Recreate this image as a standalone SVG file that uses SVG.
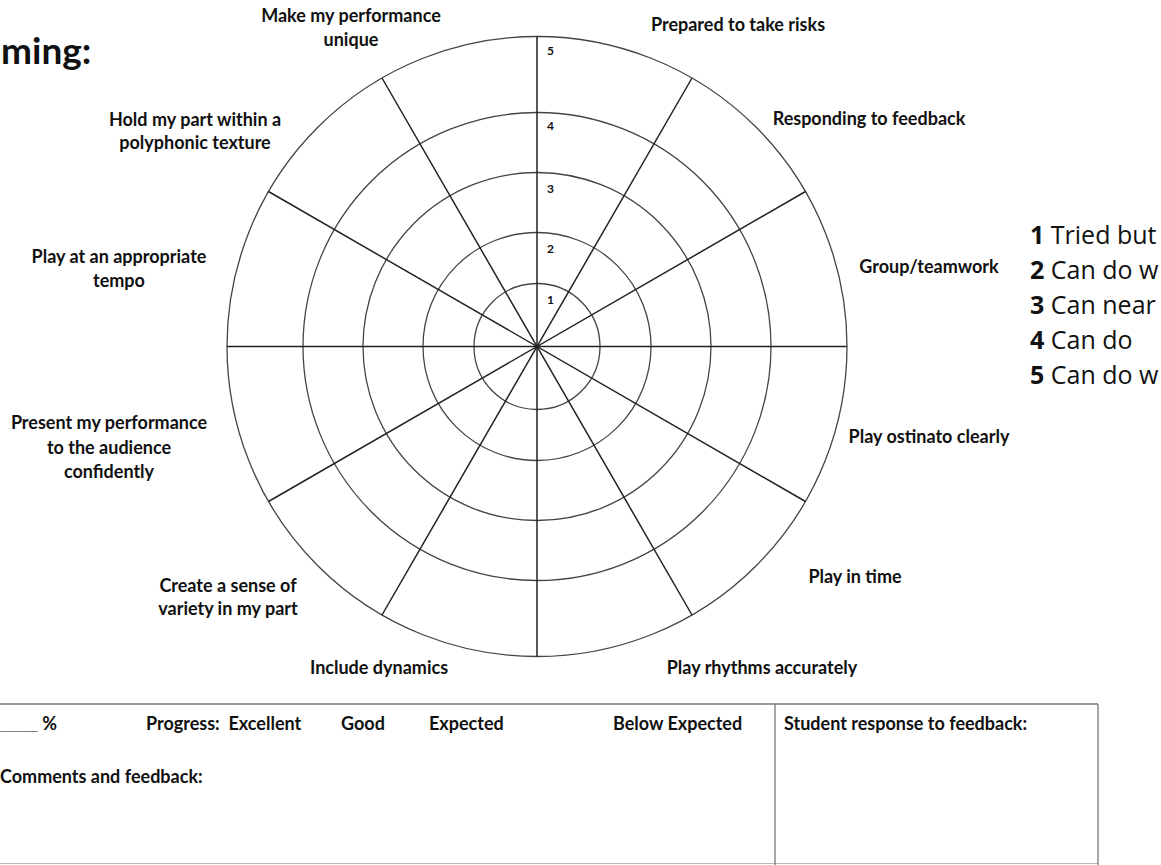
<svg xmlns="http://www.w3.org/2000/svg" width="1161" height="865" viewBox="0 0 1161 865">
<style>
.lbl{font-family:Lato,"Open Sans","Liberation Sans",sans-serif;font-weight:bold;font-size:18px;fill:#111;text-anchor:middle}
.num{font-family:Lato,"Liberation Sans",sans-serif;font-weight:bold;font-size:12px;fill:#111}
.leg{font-family:"Open Sans","Noto Sans",sans-serif;font-size:25px;fill:#111}
.legn{font-weight:bold}
.tbl{font-family:Lato,"Open Sans","Liberation Sans",sans-serif;font-weight:bold;font-size:18px;fill:#111}
.ring{fill:none;stroke:#444;stroke-width:1.3}
.spoke{stroke:#222;stroke-width:1.5}
</style>
<rect width="1161" height="865" fill="#fff"/>
<text x="1" y="64" style="font-family:Lato,'Open Sans',sans-serif;font-weight:bold;font-size:37px;fill:#111">ming:</text>

<g id="grid">
<circle class="ring" cx="537" cy="346.5" r="63"/>
<circle class="ring" cx="537" cy="346.5" r="114"/>
<circle class="ring" cx="537" cy="346.5" r="174"/>
<circle class="ring" cx="537" cy="346.5" r="234"/>
<circle class="ring" cx="537" cy="346.5" r="310"/>
</g>
<g id="connectors">
<line class="spoke" x1="537" y1="36.5" x2="537" y2="656.5"/>
<line class="spoke" x1="692" y1="78" x2="382" y2="615"/>
<line class="spoke" x1="805.5" y1="191.5" x2="268.5" y2="501.5"/>
<line class="spoke" x1="847" y1="346.5" x2="227" y2="346.5"/>
<line class="spoke" x1="805.5" y1="501.5" x2="268.5" y2="191.5"/>
<line class="spoke" x1="692" y1="615" x2="382" y2="78"/>
</g>
<g id="scale">
<text class="num" x="547" y="55">5</text>
<text class="num" x="547" y="130">4</text>
<text class="num" x="547" y="192.5">3</text>
<text class="num" x="547" y="252.5">2</text>
<text class="num" x="547" y="304">1</text>
</g>

<g id="label-unique"><text class="lbl" x="351" y="22">Make my performance</text><text class="lbl" x="351" y="46">unique</text></g>
<g id="label-risks"><text class="lbl" x="738" y="31">Prepared to take risks</text></g>
<g id="label-feedback"><text class="lbl" x="869" y="125">Responding to feedback</text></g>
<g id="label-group"><text class="lbl" x="929" y="273">Group/teamwork</text></g>
<g id="label-ostinato"><text class="lbl" x="929" y="443">Play ostinato clearly</text></g>
<g id="label-time"><text class="lbl" x="855" y="583">Play in time</text></g>
<g id="label-rhythms"><text class="lbl" x="762" y="674">Play rhythms accurately</text></g>
<g id="label-dynamics"><text class="lbl" x="379" y="674">Include dynamics</text></g>
<g id="label-variety"><text class="lbl" x="228" y="592">Create a sense of</text><text class="lbl" x="228" y="615">variety in my part</text></g>
<g id="label-present"><text class="lbl" x="109" y="429">Present my performance</text><text class="lbl" x="109" y="454">to the audience</text><text class="lbl" x="109" y="478">confidently</text></g>
<g id="label-tempo"><text class="lbl" x="119" y="263">Play at an appropriate</text><text class="lbl" x="119" y="287">tempo</text></g>
<g id="label-polyphonic"><text class="lbl" x="195" y="126">Hold my part within a</text><text class="lbl" x="195" y="149">polyphonic texture</text></g>

<g id="legend">
<text class="leg" x="1030" y="244"><tspan class="legn">1</tspan> Tried but</text>
<text class="leg" x="1030" y="279"><tspan class="legn">2</tspan> Can do w</text>
<text class="leg" x="1030" y="314"><tspan class="legn">3</tspan> Can near</text>
<text class="leg" x="1030" y="349"><tspan class="legn">4</tspan> Can do</text>
<text class="leg" x="1030" y="384"><tspan class="legn">5</tspan> Can do w</text>
</g>

<g id="table">
<line x1="0" y1="704" x2="1098" y2="704" stroke="#777" stroke-width="1.5"/>
<line x1="0" y1="863.5" x2="1098" y2="863.5" stroke="#bbb" stroke-width="1.2"/>
<line x1="775" y1="704" x2="775" y2="865" stroke="#777" stroke-width="1.3"/>
<line x1="1098" y1="704" x2="1098" y2="865" stroke="#777" stroke-width="1.3"/>
<text class="tbl" x="0" y="730"><tspan style="font-family:'Liberation Sans',sans-serif;font-size:17px">____</tspan> %</text>
<text class="tbl" x="146" y="730" xml:space="preserve">Progress:  Excellent</text>
<text class="tbl" x="341" y="730">Good</text>
<text class="tbl" x="429" y="730">Expected</text>
<text class="tbl" x="613" y="730">Below Expected</text>
<text class="tbl" x="784" y="730">Student response to feedback:</text>
<text class="tbl" x="0" y="783">Comments and feedback:</text>
</g>
</svg>
